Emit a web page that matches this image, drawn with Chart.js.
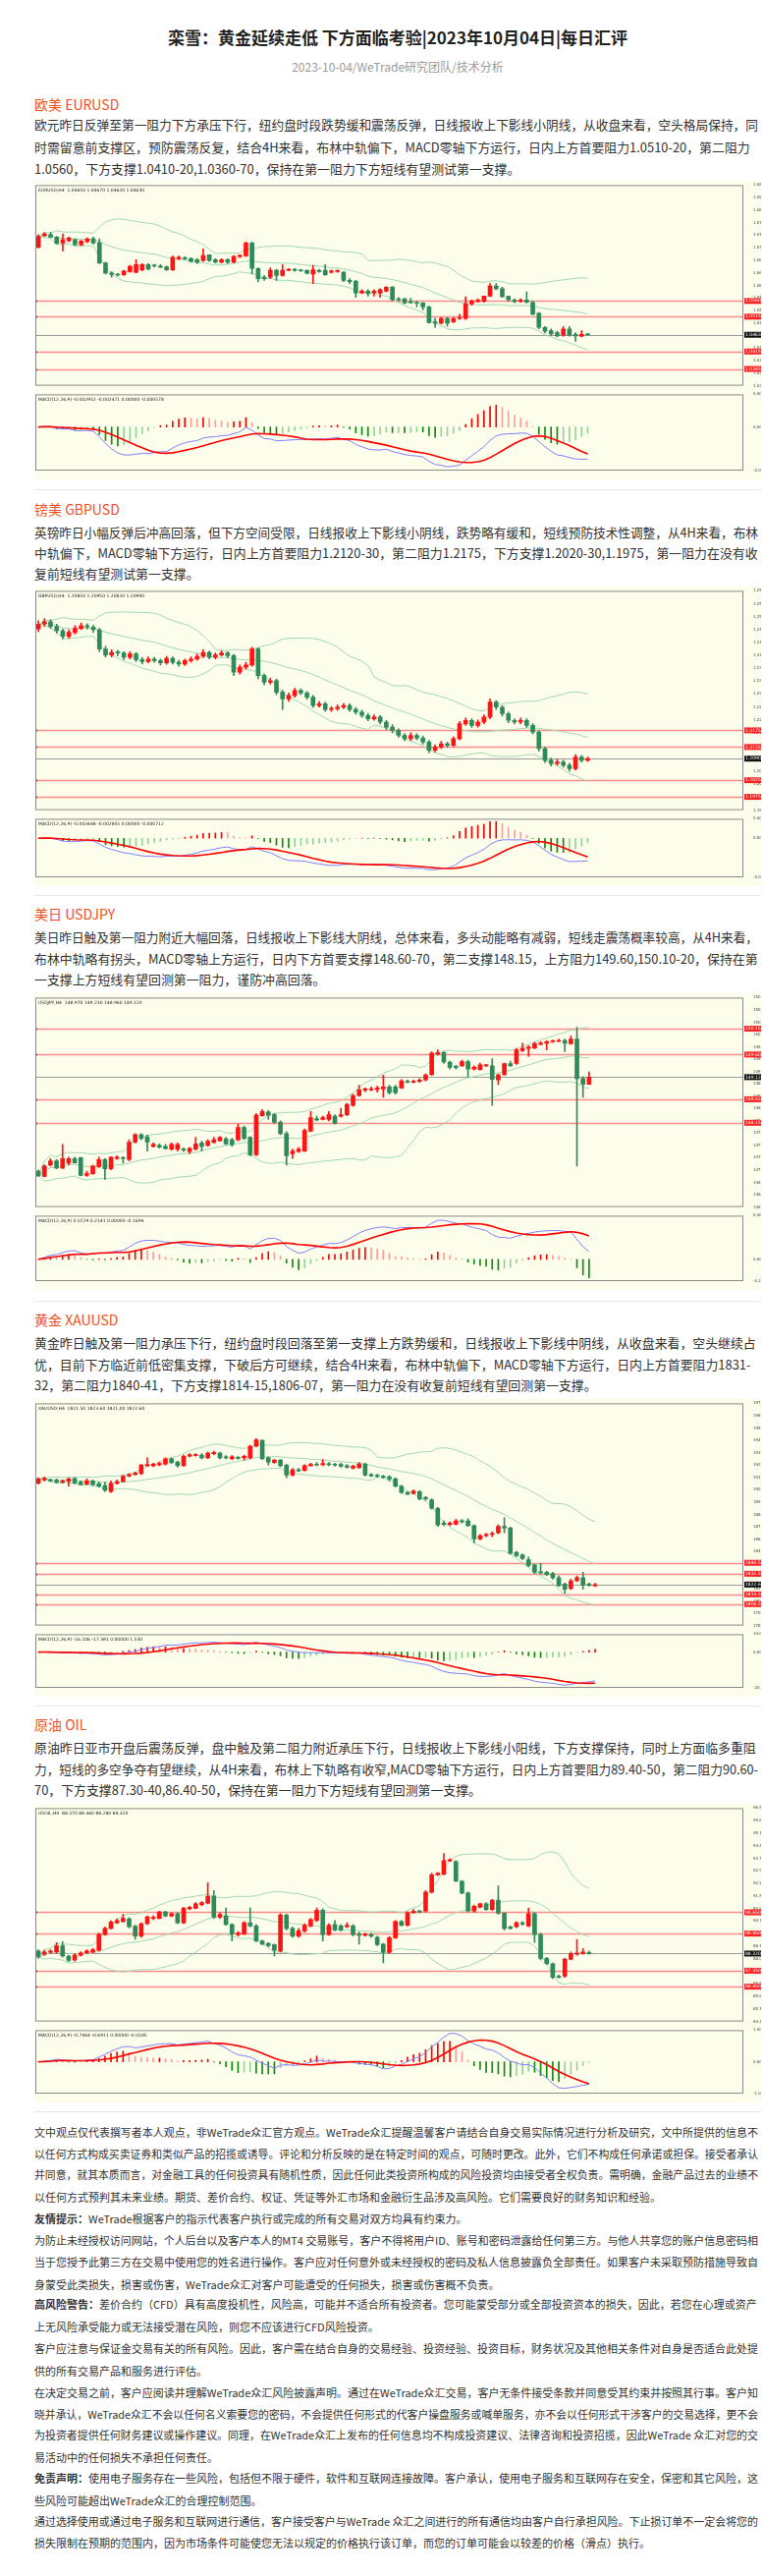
<!DOCTYPE html>
<html>
<head>
<meta charset="utf-8">
<script src="https://cdn.jsdelivr.net/npm/chart.js@4.4.0/dist/chart.umd.min.js"></script>
<style>
html,body{margin:0;padding:0;background:#fff}
body{position:relative;width:777px;height:2622px;overflow:hidden;font-family:"Noto Sans CJK SC","Noto Sans",sans-serif;color:#333}
.ab{position:absolute;white-space:nowrap}
.title{left:35px;width:740px;text-align:center;font-size:17px;font-weight:bold;color:#222;line-height:24px}
.sub{left:35px;width:740px;text-align:center;font-size:12px;color:#9a9a9a;line-height:18px}
.hd{left:35px;font-size:14px;color:#f0521c;line-height:20px}
.p{left:35px;font-size:12.9px;line-height:20px;color:#333;transform-origin:0 0}
.d{left:35px;font-size:11px;line-height:18px;color:#333;transform-origin:0 0}
.sep{position:absolute;left:35px;width:740px;height:1px;background:#e8e8e8}
.box{position:absolute;left:35px;width:740px;background:#fdfdec}
.box canvas{position:absolute;left:0}
</style>
</head>
<body>
<div class="ab title" style="top:26px">栾雪：黄金延续走低 下方面临考验|2023年10月04日|每日汇评</div>
<div class="ab sub" style="top:59px">2023-10-04/WeTrade研究团队/技术分析</div>

<div class="ab hd" style="top:96px">欧美 EURUSD</div>
<div class="ab p" style="top:117px">欧元昨日反弹至第一阻力下方承压下行，纽约盘时段跌势缓和震荡反弹，日线报收上下影线小阴线，从收盘来看，空头格局保持，同</div>
<div class="ab p" style="top:140px">时需留意前支撑区，预防震荡反复，结合4H来看，布林中轨偏下，MACD零轴下方运行，日内上方首要阻力1.0510-20，第二阻力</div>
<div class="ab p" style="top:162px">1.0560，下方支撑1.0410-20,1.0360-70，保持在第一阻力下方短线有望测试第一支撑。</div>
<div class="box" id="eur" style="top:184px;height:304px"></div>
<div class="sep" style="top:498px"></div>

<div class="ab hd" style="top:508px">镑美 GBPUSD</div>
<div class="ab p" style="top:532px">英镑昨日小幅反弹后冲高回落，但下方空间受限，日线报收上下影线小阴线，跌势略有缓和，短线预防技术性调整，从4H来看，布林</div>
<div class="ab p" style="top:553px">中轨偏下，MACD零轴下方运行，日内上方首要阻力1.2120-30，第二阻力1.2175，下方支撑1.2020-30,1.1975，第一阻力在没有收</div>
<div class="ab p" style="top:574px">复前短线有望测试第一支撑。</div>
<div class="box" id="gbp" style="top:597px;height:305px"></div>
<div class="sep" style="top:911px"></div>

<div class="ab hd" style="top:920px">美日 USDJPY</div>
<div class="ab p" style="top:944px">美日昨日触及第一阻力附近大幅回落，日线报收上下影线大阴线，总体来看，多头动能略有减弱，短线走震荡概率较高，从4H来看，</div>
<div class="ab p" style="top:966px">布林中轨略有拐头，MACD零轴上方运行，日内下方首要支撑148.60-70，第二支撑148.15，上方阻力149.60,150.10-20，保持在第</div>
<div class="ab p" style="top:987px">一支撑上方短线有望回测第一阻力，谨防冲高回落。</div>
<div class="box" id="jpy" style="top:1011px;height:302px"></div>
<div class="sep" style="top:1324px"></div>

<div class="ab hd" style="top:1333px">黄金 XAUUSD</div>
<div class="ab p" style="top:1357px">黄金昨日触及第一阻力承压下行，纽约盘时段回落至第一支撑上方跌势缓和，日线报收上下影线中阴线，从收盘来看，空头继续占</div>
<div class="ab p" style="top:1379px">优，目前下方临近前低密集支撑，下破后方可继续，结合4H来看，布林中轨偏下，MACD零轴下方运行，日内上方首要阻力1831-</div>
<div class="ab p" style="top:1400px">32，第二阻力1840-41，下方支撑1814-15,1806-07，第一阻力在没有收复前短线有望回测第一支撑。</div>
<div class="box" id="xau" style="top:1424px;height:303px"></div>
<div class="sep" style="top:1736px"></div>

<div class="ab hd" style="top:1745px">原油 OIL</div>
<div class="ab p" style="top:1769px">原油昨日亚市开盘后震荡反弹，盘中触及第二阻力附近承压下行，日线报收上下影线小阳线，下方支撑保持，同时上方面临多重阻</div>
<div class="ab p" style="top:1791px">力，短线的多空争夺有望继续，从4H来看，布林上下轨略有收窄,MACD零轴下方运行，日内上方首要阻力89.40-50，第二阻力90.60-</div>
<div class="ab p" style="top:1812px">70，下方支撑87.30-40,86.40-50，保持在第一阻力下方短线有望回测第一支撑。</div>
<div class="box" id="oil" style="top:1836px;height:304px"></div>
<div class="sep" style="top:2149px"></div>

<div class="ab d" style="top:2161px">文中观点仅代表撰写者本人观点，非WeTrade众汇官方观点。WeTrade众汇提醒温馨客户请结合自身交易实际情况进行分析及研究，文中所提供的信息不</div>
<div class="ab d" style="top:2183px">以任何方式构成买卖证券和类似产品的招揽或诱导。评论和分析反映的是在特定时间的观点，可随时更改。此外，它们不构成任何承诺或担保。接受者承认</div>
<div class="ab d" style="top:2204px">并同意，就其本质而言，对金融工具的任何投资具有随机性质，因此任何此类投资所构成的风险投资均由接受者全权负责。需明确，金融产品过去的业绩不</div>
<div class="ab d" style="top:2227px">以任何方式预判其未来业绩。期货、差价合约、权证、凭证等外汇市场和金融衍生品涉及高风险。它们需要良好的财务知识和经验。</div>
<div class="ab d" style="top:2249px"><b>友情提示：</b>WeTrade根据客户的指示代表客户执行或完成的所有交易对双方均具有约束力。</div>
<div class="ab d" style="top:2271px">为防止未经授权访问网站，个人后台以及客户本人的MT4 交易账号，客户不得将用户ID、账号和密码泄露给任何第三方。与他人共享您的账户信息密码相</div>
<div class="ab d" style="top:2293px">当于您授予此第三方在交易中使用您的姓名进行操作。客户应对任何意外或未经授权的密码及私人信息披露负全部责任。如果客户未采取预防措施导致自</div>
<div class="ab d" style="top:2316px">身蒙受此类损失，损害或伤害，WeTrade众汇对客户可能遭受的任何损失，损害或伤害概不负责。</div>
<div class="ab d" style="top:2336px"><b>高风险警告：</b>差价合约（CFD）具有高度投机性，风险高，可能并不适合所有投资者。您可能蒙受部分或全部投资资本的损失，因此，若您在心理或资产</div>
<div class="ab d" style="top:2359px">上无风险承受能力或无法接受潜在风险，则您不应该进行CFD风险投资。</div>
<div class="ab d" style="top:2381px">客户应注意与保证金交易有关的所有风险。因此，客户需在结合自身的交易经验、投资经验、投资目标，财务状况及其他相关条件对自身是否适合此处提</div>
<div class="ab d" style="top:2404px">供的所有交易产品和服务进行评估。</div>
<div class="ab d" style="top:2426px">在决定交易之前，客户应阅读并理解WeTrade众汇风险披露声明。通过在WeTrade众汇交易，客户无条件接受条款并同意受其约束并按照其行事。客户知</div>
<div class="ab d" style="top:2448px">晓并承认，WeTrade众汇不会以任何名义索要您的密码，不会提供任何形式的代客户操盘服务或喊单服务，亦不会以任何形式干涉客户的交易选择，更不会</div>
<div class="ab d" style="top:2469px">为投资者提供任何财务建议或操作建议。同理，在WeTrade众汇上发布的任何信息均不构成投资建议、法律咨询和投资招揽，因此WeTrade 众汇对您的交</div>
<div class="ab d" style="top:2492px">易活动中的任何损失不承担任何责任。</div>
<div class="ab d" style="top:2513px"><b>免责声明：</b>使用电子服务存在一些风险，包括但不限于硬件，软件和互联网连接故障。客户承认，使用电子服务和互联网存在安全，保密和其它风险，这</div>
<div class="ab d" style="top:2536px">些风险可能超出WeTrade众汇的合理控制范围。</div>
<div class="ab d" style="top:2557px">通过选择使用或通过电子服务和互联网进行通信，客户接受客户与WeTrade 众汇之间进行的所有通信均由客户自行承担风险。下止损订单不一定会将您的</div>
<div class="ab d" style="top:2579px">损失限制在预期的范围内，因为市场条件可能使您无法以规定的价格执行该订单，而您的订单可能会以较差的价格（滑点）执行。</div>

<script>
// squeeze over-long text lines so they end at the column edge like the original
function fitLines() {
  document.querySelectorAll('.p,.d').forEach(el => {
    el.style.transform = '';
    const w = el.getBoundingClientRect().width;
    if (w > 737) el.style.transform = 'scaleX(' + (737 / w) + ')';
  });
}
fitLines();
if (document.fonts && document.fonts.ready) document.fonts.ready.then(fitLines);

// ---- EURUSD H4 ----
const eurOpen = [1.0714,1.0747,1.0750,1.0743,1.0726,1.0732,1.0736,1.0721,1.0730,1.0738,
  1.0727,1.0669,1.0640,1.0637,1.0635,1.0644,1.0642,1.0649,1.0664,1.0662,
  1.0660,1.0658,1.0649,1.0681,1.0684,1.0682,1.0678,1.0676,1.0692,1.0678,
  1.0671,1.0678,1.0671,1.0687,1.0689,1.0726,1.0653,1.0628,1.0628,1.0648,
  1.0633,1.0648,1.0649,1.0648,1.0647,1.0637,1.0647,1.0648,1.0642,1.0644,
  1.0642,1.0619,1.0616,1.0583,1.0588,1.0583,1.0582,1.0588,1.0600,1.0566,
  1.0566,1.0558,1.0556,1.0554,1.0543,1.0500,1.0496,1.0510,1.0500,1.0510,
  1.0510,1.0552,1.0558,1.0559,1.0574,1.0603,1.0595,1.0573,1.0563,1.0559,
  1.0563,1.0556,1.0525,1.0484,1.0475,1.0469,1.0462,1.0480,1.0464,1.0459,
  1.0465];
const eurHigh = [1.0750,1.0756,1.0756,1.0745,1.0752,1.0743,1.0738,1.0734,1.0741,1.0743,
  1.0738,1.0671,1.0644,1.0639,1.0648,1.0662,1.0678,1.0667,1.0667,1.0665,
  1.0664,1.0660,1.0689,1.0689,1.0687,1.0684,1.0682,1.0709,1.0692,1.0681,
  1.0681,1.0681,1.0690,1.0692,1.0729,1.0729,1.0655,1.0633,1.0655,1.0651,
  1.0664,1.0653,1.0653,1.0651,1.0649,1.0662,1.0651,1.0664,1.0649,1.0649,
  1.0644,1.0624,1.0619,1.0592,1.0592,1.0592,1.0595,1.0601,1.0601,1.0570,
  1.0568,1.0568,1.0559,1.0556,1.0545,1.0510,1.0513,1.0513,1.0513,1.0522,
  1.0572,1.0563,1.0566,1.0574,1.0610,1.0610,1.0599,1.0574,1.0566,1.0566,
  1.0586,1.0560,1.0527,1.0487,1.0480,1.0473,1.0487,1.0487,1.0469,1.0475,
  1.0467];
const eurLow = [1.0712,1.0745,1.0741,1.0723,1.0703,1.0730,1.0719,1.0719,1.0727,1.0723,
  1.0667,1.0637,1.0628,1.0631,1.0633,1.0642,1.0640,1.0646,1.0649,1.0657,
  1.0655,1.0647,1.0647,1.0678,1.0678,1.0671,1.0667,1.0673,1.0673,1.0669,
  1.0669,1.0667,1.0669,1.0684,1.0687,1.0637,1.0615,1.0619,1.0624,1.0619,
  1.0631,1.0646,1.0645,1.0644,1.0637,1.0610,1.0642,1.0633,1.0640,1.0642,
  1.0615,1.0610,1.0570,1.0581,1.0574,1.0574,1.0570,1.0586,1.0560,1.0558,
  1.0552,1.0553,1.0543,1.0534,1.0496,1.0484,1.0494,1.0487,1.0498,1.0507,
  1.0507,1.0548,1.0556,1.0556,1.0572,1.0592,1.0570,1.0560,1.0555,1.0556,
  1.0554,1.0520,1.0480,1.0469,1.0462,1.0457,1.0459,1.0459,1.0444,1.0457,
  1.0462];
const eurClose = [1.0745,1.0752,1.0743,1.0725,1.0736,1.0740,1.0721,1.0732,1.0738,1.0726,
  1.0669,1.0640,1.0636,1.0634,1.0646,1.0659,1.0664,1.0664,1.0651,1.0660,
  1.0657,1.0649,1.0685,1.0685,1.0681,1.0673,1.0671,1.0690,1.0676,1.0671,
  1.0678,1.0671,1.0687,1.0691,1.0726,1.0653,1.0624,1.0624,1.0648,1.0633,
  1.0648,1.0650,1.0648,1.0646,1.0639,1.0649,1.0644,1.0635,1.0646,1.0647,
  1.0619,1.0615,1.0583,1.0588,1.0581,1.0588,1.0592,1.0599,1.0563,1.0563,
  1.0554,1.0555,1.0553,1.0543,1.0498,1.0496,1.0510,1.0496,1.0510,1.0513,
  1.0552,1.0560,1.0562,1.0574,1.0603,1.0595,1.0572,1.0563,1.0558,1.0563,
  1.0556,1.0522,1.0484,1.0473,1.0465,1.0460,1.0480,1.0462,1.0460,1.0464,
  1.0463];
const eurLevels = [1.0560, 1.0515, 1.0415, 1.0365];

// ---- GBPUSD H4 ----
const gbpOpen = [1.2480,1.2495,1.2502,1.2488,1.2475,1.2458,1.2470,1.2482,1.2490,1.2486,
  1.2478,1.2420,1.2402,1.2410,1.2408,1.2395,1.2405,1.2388,1.2382,1.2390,
  1.2385,1.2378,1.2392,1.2380,1.2375,1.2385,1.2390,1.2398,1.2410,1.2395,
  1.2402,1.2408,1.2400,1.2350,1.2365,1.2372,1.2420,1.2340,1.2320,1.2325,
  1.2290,1.2270,1.2280,1.2295,1.2288,1.2275,1.2250,1.2255,1.2238,1.2240,
  1.2245,1.2250,1.2238,1.2230,1.2220,1.2210,1.2215,1.2200,1.2185,1.2175,
  1.2160,1.2150,1.2160,1.2152,1.2140,1.2115,1.2125,1.2135,1.2130,1.2150,
  1.2195,1.2205,1.2190,1.2200,1.2215,1.2260,1.2245,1.2225,1.2205,1.2200,
  1.2205,1.2190,1.2170,1.2120,1.2085,1.2075,1.2080,1.2070,1.2060,1.2095,
  1.2085];
const gbpHigh = [1.2505,1.2512,1.2508,1.2495,1.2480,1.2478,1.2490,1.2498,1.2496,1.2492,
  1.2482,1.2428,1.2418,1.2416,1.2412,1.2412,1.2410,1.2395,1.2396,1.2395,
  1.2390,1.2398,1.2396,1.2386,1.2390,1.2396,1.2405,1.2418,1.2414,1.2408,
  1.2415,1.2412,1.2404,1.2372,1.2380,1.2425,1.2424,1.2345,1.2332,1.2330,
  1.2296,1.2288,1.2302,1.2300,1.2292,1.2280,1.2262,1.2260,1.2246,1.2252,
  1.2256,1.2255,1.2244,1.2236,1.2226,1.2222,1.2220,1.2205,1.2192,1.2180,
  1.2166,1.2168,1.2165,1.2158,1.2145,1.2132,1.2142,1.2140,1.2156,1.2202,
  1.2212,1.2210,1.2206,1.2222,1.2270,1.2265,1.2250,1.2230,1.2210,1.2212,
  1.2210,1.2195,1.2174,1.2125,1.2092,1.2088,1.2085,1.2076,1.2102,1.2100,
  1.2095];
const gbpLow = [1.2472,1.2488,1.2482,1.2468,1.2450,1.2452,1.2465,1.2478,1.2480,1.2470,
  1.2412,1.2395,1.2396,1.2400,1.2388,1.2390,1.2382,1.2375,1.2378,1.2380,
  1.2372,1.2374,1.2375,1.2368,1.2370,1.2380,1.2386,1.2394,1.2390,1.2390,
  1.2398,1.2394,1.2340,1.2344,1.2360,1.2368,1.2330,1.2312,1.2314,1.2282,
  1.2238,1.2262,1.2275,1.2282,1.2268,1.2244,1.2245,1.2232,1.2232,1.2235,
  1.2240,1.2232,1.2224,1.2214,1.2204,1.2205,1.2194,1.2178,1.2168,1.2154,
  1.2144,1.2145,1.2146,1.2134,1.2108,1.2110,1.2120,1.2124,1.2126,1.2146,
  1.2190,1.2184,1.2185,1.2195,1.2210,1.2238,1.2218,1.2198,1.2194,1.2195,
  1.2184,1.2164,1.2112,1.2078,1.2068,1.2070,1.2064,1.2052,1.2055,1.2080,
  1.2082];
const gbpClose = [1.2495,1.2502,1.2488,1.2475,1.2458,1.2470,1.2482,1.2490,1.2486,1.2478,
  1.2420,1.2402,1.2410,1.2408,1.2395,1.2405,1.2388,1.2382,1.2390,1.2385,
  1.2378,1.2392,1.2380,1.2375,1.2385,1.2390,1.2398,1.2410,1.2395,1.2402,
  1.2408,1.2400,1.2350,1.2365,1.2372,1.2420,1.2340,1.2320,1.2325,1.2290,
  1.2270,1.2280,1.2295,1.2288,1.2275,1.2250,1.2255,1.2238,1.2240,1.2245,
  1.2250,1.2238,1.2230,1.2220,1.2210,1.2215,1.2200,1.2185,1.2175,1.2160,
  1.2150,1.2160,1.2152,1.2140,1.2115,1.2125,1.2135,1.2130,1.2150,1.2195,
  1.2205,1.2190,1.2200,1.2215,1.2260,1.2245,1.2225,1.2205,1.2200,1.2205,
  1.2190,1.2170,1.2120,1.2085,1.2075,1.2080,1.2070,1.2060,1.2095,1.2085,
  1.2090];
const gbpLevels = [1.2175, 1.2125, 1.2025, 1.1975];

// ---- USDJPY H4 ----
const jpyOpen = [147.12,147.01,147.25,147.34,147.19,147.29,147.39,147.41,147.03,147.07,
  147.22,147.37,147.17,147.39,147.41,147.37,147.74,147.90,147.85,147.65,
  147.67,147.65,147.59,147.59,147.59,147.54,147.59,147.72,147.67,147.73,
  147.77,147.81,147.79,147.79,148.05,147.84,147.47,148.30,148.38,148.32,
  148.16,147.92,147.49,147.54,147.55,147.97,148.24,148.22,148.22,148.29,
  148.29,148.32,148.52,148.73,148.84,148.85,148.86,148.87,148.91,148.91,
  148.89,149.03,149.01,149.03,149.06,149.17,149.61,149.64,149.44,149.35,
  149.36,149.45,149.29,149.28,149.36,149.36,149.06,149.17,149.41,149.41,
  149.68,149.73,149.74,149.82,149.84,149.87,149.88,149.90,149.83,149.93,
  149.09,148.97];
const jpyHigh = [147.15,147.26,147.39,147.37,147.69,147.42,147.42,147.42,147.12,147.25,
  147.42,147.39,147.43,147.45,147.43,147.79,147.92,147.92,147.89,147.72,
  147.70,147.69,147.72,147.72,147.62,147.63,147.84,147.76,147.79,147.84,
  147.86,147.84,147.82,148.12,148.08,147.86,148.35,148.43,148.41,148.35,
  148.19,147.96,147.59,147.63,148.02,148.39,148.29,148.29,148.39,148.32,
  148.46,148.56,148.76,148.95,148.89,148.91,148.93,149.16,148.95,148.95,
  149.07,149.06,149.06,149.09,149.19,149.66,149.70,149.66,149.46,149.37,
  149.48,149.48,149.36,149.42,149.39,149.51,149.19,149.42,149.46,149.73,
  149.84,149.79,149.86,149.87,149.90,149.91,149.93,149.93,150.00,150.18,
  149.13,149.23];
const jpyLow = [147.01,147.00,147.23,147.17,147.17,147.25,147.29,147.02,147.01,147.05,
  147.20,146.95,147.15,147.37,147.29,147.34,147.72,147.79,147.55,147.63,
  147.61,147.59,147.57,147.55,147.54,147.49,147.57,147.55,147.65,147.72,
  147.76,147.69,147.65,147.77,147.79,147.45,147.45,148.29,148.22,148.14,
  147.90,147.25,147.39,147.52,147.54,147.96,148.19,148.21,148.19,148.12,
  148.27,148.30,148.50,148.71,148.81,148.83,148.80,148.69,148.76,148.76,
  148.88,149.00,149.00,149.01,149.04,149.16,149.59,149.41,149.29,149.29,
  149.35,149.13,149.27,149.27,149.35,148.52,148.96,149.16,149.35,149.39,
  149.66,149.56,149.72,149.80,149.70,149.86,149.87,149.66,149.82,147.23,
  148.69,148.96];
const jpyClose = [147.02,147.23,147.34,147.19,147.39,147.39,147.30,147.03,147.07,147.23,
  147.37,147.17,147.42,147.42,147.39,147.74,147.90,147.82,147.74,147.69,
  147.63,147.60,147.69,147.69,147.57,147.61,147.70,147.65,147.76,147.79,
  147.84,147.70,147.69,148.05,147.82,147.47,148.31,148.39,148.31,148.16,
  147.92,147.45,147.55,147.59,147.99,148.26,148.21,148.26,148.32,148.14,
  148.32,148.54,148.73,148.85,148.87,148.87,148.89,148.91,148.79,148.79,
  149.04,149.01,149.03,149.06,149.17,149.63,149.64,149.44,149.33,149.32,
  149.45,149.29,149.33,149.38,149.37,149.07,149.17,149.41,149.36,149.70,
  149.73,149.76,149.83,149.84,149.87,149.88,149.90,149.84,149.93,149.09,
  148.97,149.12];
const jpyLevels = [150.15, 149.60, 148.65, 148.15];

// ---- XAUUSD H4 ----
const xauOpen = [1906.2,1908.8,1908.8,1908.5,1907.0,1907.5,1910.1,1907.0,1905.4,1908.0,
  1905.7,1904.1,1899.2,1905.9,1907.5,1911.9,1913.2,1914.0,1920.5,1920.5,
  1921.3,1921.8,1926.2,1923.6,1920.5,1928.3,1928.8,1929.3,1927.0,1930.4,
  1930.9,1927.8,1926.2,1927.5,1927.0,1927.0,1936.6,1941.3,1927.0,1923.1,
  1925.2,1921.0,1912.7,1917.4,1916.6,1920.5,1921.8,1921.3,1922.0,1921.8,
  1921.5,1920.5,1918.4,1918.9,1921.8,1913.2,1912.7,1911.9,1911.4,1909.6,
  1903.6,1898.4,1897.6,1899.2,1894.5,1892.4,1885.4,1873.2,1872.2,1872.4,
  1875.3,1875.0,1871.1,1860.2,1862.8,1863.9,1865.2,1870.6,1869.1,1849.1,
  1847.0,1843.1,1838.7,1833.2,1832.7,1831.7,1828.3,1823.1,1819.2,1825.7,
  1828.3,1823.1,1821.5];
const xauHigh = [1910.6,1911.2,1909.6,1909.6,1908.8,1910.6,1910.6,1908.0,1909.6,1908.8,
  1907.0,1907.0,1908.0,1908.8,1912.7,1914.0,1915.3,1921.8,1927.0,1922.6,
  1923.6,1927.0,1927.0,1924.4,1929.3,1930.4,1930.4,1930.4,1931.9,1932.4,
  1931.7,1928.8,1928.8,1928.3,1929.3,1937.4,1942.8,1941.8,1927.8,1925.7,
  1925.7,1921.8,1918.4,1918.4,1921.3,1922.6,1923.1,1925.7,1923.1,1922.6,
  1922.6,1921.5,1921.0,1923.1,1922.6,1914.0,1913.5,1912.7,1912.2,1910.6,
  1904.4,1899.2,1900.5,1900.2,1895.0,1893.2,1886.2,1875.0,1874.3,1876.3,
  1876.3,1876.8,1871.7,1863.9,1864.9,1865.9,1871.7,1877.6,1869.9,1849.9,
  1847.8,1845.2,1839.5,1840.0,1833.5,1832.7,1829.6,1823.9,1827.0,1829.6,
  1832.7,1823.9,1823.6];
const xauLow = [1905.4,1908.0,1907.5,1906.2,1906.2,1903.6,1905.7,1904.4,1904.9,1904.1,
  1902.8,1899.2,1898.4,1905.4,1907.0,1911.4,1912.7,1913.2,1920.0,1919.7,
  1920.5,1921.0,1922.3,1919.2,1920.0,1927.8,1928.3,1926.2,1926.5,1929.6,
  1926.2,1926.2,1925.7,1925.7,1925.2,1926.2,1936.1,1925.7,1921.0,1922.6,
  1919.7,1910.6,1911.9,1915.8,1916.1,1920.0,1920.5,1920.5,1920.5,1920.0,
  1919.2,1918.4,1917.9,1918.4,1911.9,1911.4,1910.9,1910.1,1908.0,1902.8,
  1897.6,1896.6,1897.1,1892.4,1891.9,1884.6,1870.6,1871.1,1871.1,1871.7,
  1873.2,1870.6,1856.9,1859.4,1862.0,1862.0,1864.4,1865.2,1847.8,1845.7,
  1843.1,1837.4,1831.7,1831.4,1830.1,1827.0,1821.0,1815.3,1818.4,1824.9,
  1818.7,1821.2,1821.0];
const xauClose = [1909.6,1910.1,1908.0,1907.0,1908.0,1909.6,1906.2,1904.9,1908.0,1904.9,
  1903.6,1900.2,1905.9,1907.5,1911.9,1913.2,1914.5,1921.0,1921.5,1921.8,
  1922.3,1926.2,1923.1,1920.5,1928.3,1929.6,1929.6,1927.0,1930.9,1931.4,
  1927.0,1927.0,1927.8,1926.5,1928.3,1936.6,1941.8,1926.2,1923.6,1925.2,
  1920.5,1912.7,1917.1,1916.3,1920.5,1921.5,1921.0,1922.3,1921.3,1921.0,
  1920.0,1919.2,1920.2,1922.0,1912.7,1912.2,1911.7,1910.9,1909.6,1903.6,
  1898.4,1897.1,1899.7,1893.2,1893.2,1885.4,1871.7,1872.2,1873.2,1875.0,
  1874.3,1871.1,1860.2,1862.8,1863.9,1864.4,1870.6,1869.1,1848.3,1846.5,
  1843.9,1838.4,1832.7,1832.2,1830.9,1828.3,1821.8,1818.7,1825.7,1828.3,
  1822.3,1822.3,1822.6];
const xauLevels = [1840.5, 1831.5, 1814.5, 1806.5];

// ---- USOIL H4 ----
const oilOpen = [88.46,88.28,88.39,88.41,88.76,88.18,87.96,88.23,88.35,88.41,
  88.50,89.39,89.74,90.06,90.13,90.28,89.87,89.30,90.01,90.31,
  90.31,90.67,90.45,90.58,90.06,90.85,90.88,91.08,91.17,91.58,
  90.37,90.45,89.96,89.39,89.42,90.06,89.88,89.03,88.89,88.82,
  88.46,90.51,89.74,89.30,89.60,89.88,90.19,90.77,89.39,89.96,
  89.88,89.83,89.88,89.42,89.35,89.39,89.24,88.85,88.39,89.21,
  90.13,89.92,90.63,90.72,90.72,91.79,92.77,92.80,93.55,93.52,
  92.41,91.74,90.72,90.95,91.13,90.81,91.34,90.60,89.83,89.83,
  90.06,89.87,90.58,89.39,88.05,87.75,87.04,87.04,88.00,88.28,
  88.32,88.37];
const oilHigh = [88.53,88.50,88.53,88.94,88.99,88.23,88.32,88.43,88.53,88.60,
  89.48,89.83,90.19,90.28,90.54,90.35,89.92,90.06,90.45,90.45,
  90.72,90.72,90.63,90.63,90.93,90.99,91.20,91.25,92.32,91.88,
  90.63,90.90,90.01,89.56,90.13,90.90,89.96,89.07,88.94,88.85,
  90.58,90.54,89.83,89.74,90.01,90.31,90.90,90.85,90.01,90.19,
  89.96,90.06,89.96,89.53,89.48,89.46,89.30,88.89,89.28,90.19,
  90.19,90.69,90.81,90.77,91.88,92.86,92.91,93.98,93.69,93.57,
  92.45,91.79,91.06,91.17,91.20,91.38,92.15,90.63,89.88,90.13,
  90.13,90.90,90.63,89.48,88.11,87.79,87.11,88.05,88.41,89.12,
  88.60,88.46];
const oilLow = [88.05,88.21,88.32,88.35,88.11,87.87,87.89,88.18,88.32,88.35,
  88.46,89.35,89.71,90.01,90.10,89.78,89.12,89.24,89.96,90.24,
  90.28,90.40,90.40,90.01,90.01,90.81,90.85,91.02,91.13,90.31,
  90.31,89.92,89.03,89.30,89.39,89.83,88.99,88.82,88.71,88.18,
  88.41,89.65,89.24,89.24,89.53,89.83,90.13,89.03,89.35,89.60,
  89.60,89.78,89.30,88.85,89.30,89.24,88.76,87.79,88.32,89.17,
  89.88,89.87,90.60,90.63,90.67,91.74,92.73,92.77,93.52,92.38,
  91.70,90.67,90.67,90.90,90.77,90.77,90.54,89.65,89.69,89.78,
  89.92,89.83,88.94,87.96,87.70,86.90,86.93,86.98,87.96,88.23,
  88.28,88.28];
const oilClose = [88.14,88.41,88.46,88.76,88.18,87.93,88.23,88.35,88.46,88.53,
  89.39,89.74,90.10,90.19,90.31,89.83,89.30,90.01,90.40,90.37,
  90.67,90.45,90.58,90.06,90.88,90.93,91.13,91.20,91.56,90.37,
  90.54,89.96,89.42,89.48,90.06,89.88,89.03,88.85,88.76,88.50,
  90.51,89.74,89.30,89.60,89.92,90.24,90.77,89.39,89.92,89.65,
  89.65,89.92,89.39,89.35,89.42,89.30,88.82,88.39,89.21,90.13,
  89.92,90.63,90.72,90.67,91.79,92.77,92.86,93.57,93.62,92.41,
  91.74,90.72,90.99,91.13,90.81,91.34,90.60,89.74,89.74,90.06,
  89.99,90.58,89.39,88.05,87.75,86.98,86.98,88.00,88.32,88.35,
  88.41,88.32];
const oilLevels = [90.65, 89.45, 87.35, 86.45];

// x-axis tick labels (one every 4 bars)
const fxTicks = ['12 Sep 2023','13 Sep 12:00','14 Sep 04:00','14 Sep 20:00','15 Sep 12:00','18 Sep 04:00',
  '18 Sep 20:00','19 Sep 12:00','20 Sep 04:00','20 Sep 20:00','21 Sep 12:00','22 Sep 04:00','22 Sep 20:00',
  '25 Sep 12:00','26 Sep 04:00','26 Sep 20:00','27 Sep 12:00','28 Sep 04:00','28 Sep 20:00','29 Sep 12:00',
  '2 Oct 04:00','2 Oct 20:00','3 Oct 12:00'];
const xauTicks = ['12 Sep 2023','13 Sep 09:00','14 Sep 01:00','14 Sep 17:00','15 Sep 09:00','18 Sep 01:00',
  '18 Sep 17:00','19 Sep 09:00','20 Sep 01:00','20 Sep 17:00','21 Sep 09:00','22 Sep 01:00','22 Sep 17:00',
  '25 Sep 09:00','26 Sep 01:00','26 Sep 17:00','27 Sep 09:00','28 Sep 01:00','28 Sep 17:00','29 Sep 09:00',
  '2 Oct 01:00','2 Oct 17:00','3 Oct 09:00','4 Oct 01:00'];
const oilTicks = ['12 Sep 2023','13 Sep 13:00','14 Sep 05:00','14 Sep 21:00','15 Sep 13:00','18 Sep 05:00',
  '18 Sep 21:00','19 Sep 13:00','20 Sep 05:00','20 Sep 21:00','21 Sep 13:00','22 Sep 05:00','22 Sep 21:00',
  '25 Sep 13:00','26 Sep 05:00','26 Sep 21:00','27 Sep 13:00','28 Sep 05:00','28 Sep 21:00','29 Sep 13:00',
  '2 Oct 05:00','2 Oct 21:00','3 Oct 13:00'];

Chart.defaults.font.family = '"DejaVu Sans", sans-serif';
Chart.defaults.animation = false;

const UP = '#ff1414', DOWN = '#2e8b57', BAND = '#9fd9b2';

// bollinger(20,2) from closes
function bands(c) {
  const up = [], mid = [], lo = [];
  for (let i = 0; i < c.length; i++) {
    const w = c.slice(Math.max(0, i - 19), i + 1);
    const m = w.reduce((a, b) => a + b, 0) / w.length;
    const sd = Math.sqrt(w.reduce((a, b) => a + (b - m) * (b - m), 0) / w.length);
    mid.push(m); up.push(m + 2 * sd); lo.push(m - 2 * sd);
  }
  return { up, mid, lo };
}
function ema(a, n) {
  const k = 2 / (n + 1), out = [];
  a.forEach((v, i) => out.push(i ? out[i - 1] + k * (v - out[i - 1]) : v));
  return out;
}
// macd(12,26,9)
function macd(c) {
  const e12 = ema(c, 12), e26 = ema(c, 26);
  const main = e12.map((v, i) => v - e26[i]);
  const sig = main.map((v, i) => {
    const w = main.slice(Math.max(0, i - 8), i + 1);
    return w.reduce((a, b) => a + b, 0) / w.length;
  });
  const hist = main.map((v, i) => (v - sig[i]) * 1.2);
  return { main, sig, hist };
}

const levelPlugin = {
  id: 'levels',
  beforeDatasetsDraw(chart, args, o) {
    if (!o.levels) return;
    const { ctx, chartArea: a } = chart, y = chart.scales.y;
    ctx.save();
    o.levels.forEach(v => {
      const py = Math.round(y.getPixelForValue(v)) + 0.5;
      ctx.strokeStyle = '#ff8a8a'; ctx.lineWidth = 1.4;
      ctx.beginPath(); ctx.moveTo(a.left, py); ctx.lineTo(a.right, py); ctx.stroke();
      ctx.fillStyle = '#ff2020'; ctx.fillRect(a.left, py - 1, 2, 2);
    });
    const py = Math.round(y.getPixelForValue(o.last)) + 0.5;
    ctx.strokeStyle = '#9a9a9a'; ctx.lineWidth = 1;
    ctx.beginPath(); ctx.moveTo(a.left, py); ctx.lineTo(a.right, py); ctx.stroke();
    ctx.restore();
  },
  afterDraw(chart, args, o) {
    const { ctx, chartArea: a } = chart;
    ctx.save();
    ctx.strokeStyle = '#8a8a8a'; ctx.lineWidth = 1;
    ctx.strokeRect(a.left + 0.5, a.top + 0.5, a.width - 1, a.height - 1);
    ctx.font = '4.5px "DejaVu Sans"'; ctx.fillStyle = '#222'; ctx.textBaseline = 'middle';
    ctx.fillText(o.caption, a.left + 3, a.top + 5);
    if (o.levels) {
      const y = chart.scales.y;
      const box = (v, col) => {
        const py = y.getPixelForValue(v);
        ctx.fillStyle = col; ctx.fillRect(a.right + 1, py - 3, 17, 6);
        ctx.fillStyle = '#fff'; ctx.fillText(v.toFixed(o.digits), a.right + 2, py);
      };
      o.levels.forEach(v => box(v, '#ff2020'));
      box(o.last, '#111');
    }
    ctx.restore();
  }
};

function drawPair(p) {
  const host = document.getElementById(p.id);
  const n = p.close.length;
  const labels = Array.from({ length: p.slots }, (_, i) => String(i));
  const col = p.close.map((c, i) => c >= p.open[i] ? UP : DOWN);
  const bb = bands(p.close), m = macd(p.close);
  const cv1 = document.createElement('canvas');
  cv1.width = 740; cv1.height = p.mainH; cv1.style.top = '0px';
  const cv2 = document.createElement('canvas');
  cv2.width = 740; cv2.height = p.macdH; cv2.style.top = p.mainH + 'px';
  host.appendChild(cv1); host.appendChild(cv2);
  const line = (data, c, w) => ({ type: 'line', data, borderColor: c, borderWidth: w, pointRadius: 0, order: 3 });
  const d = p.digits;
  const last = n - 1;

  new Chart(cv1, {
    type: 'bar',
    data: {
      labels,
      datasets: [
        line(bb.up, BAND, 1), line(bb.mid, BAND, 1), line(bb.lo, BAND, 1),
        { data: p.low.map((l, i) => [l, p.high[i]]), backgroundColor: col, barThickness: 1, grouped: false, order: 2 },
        { data: p.open.map((o, i) => [Math.min(o, p.close[i]), Math.max(o, p.close[i])]), backgroundColor: col,
          barThickness: 4, minBarLength: 1, grouped: false, order: 1 }
      ]
    },
    options: {
      responsive: false, devicePixelRatio: 1,
      layout: { padding: { left: 1, top: 2, right: 0, bottom: 0 } },
      plugins: {
        legend: { display: false }, tooltip: { enabled: false },
        levels: { levels: p.levels, last: p.close[last], digits: d,
          caption: p.name + ',H4  ' + [p.open[last], p.high[last], p.low[last], p.close[last]].map(v => v.toFixed(d)).join(' ') }
      },
      scales: {
        x: { type: 'category', display: false, offset: true },
        y: { position: 'right', min: p.yMin, max: p.yMax,
          afterFit(s) { s.width = 18; },
          grid: { display: false }, border: { display: false },
          ticks: { count: p.tickCount, font: { size: 4 }, color: '#444', padding: 2, callback: v => v.toFixed(d) } }
      }
    },
    plugins: [levelPlugin]
  });

  const hc = m.hist.map((h, i) => {
    const prev = i ? m.hist[i - 1] : 0;
    if (h >= 0) return h >= prev ? '#ff0000' : '#ff9c9c';
    return h <= prev ? '#108a10' : '#94d49a';
  });
  const md = d + 1;
  new Chart(cv2, {
    type: 'bar',
    data: {
      labels,
      datasets: [
        { data: m.hist, backgroundColor: hc, barThickness: 1, order: 3 },
        { type: 'line', data: m.main, borderColor: '#7f7fff', borderWidth: 1, pointRadius: 0, order: 2 },
        { type: 'line', data: m.sig, borderColor: '#ff0000', borderWidth: 1.6, pointRadius: 0, order: 1 }
      ]
    },
    options: {
      responsive: false, devicePixelRatio: 1,
      layout: { padding: { left: 1, top: 1, right: 0, bottom: 0 } },
      plugins: {
        legend: { display: false }, tooltip: { enabled: false },
        levels: { caption: 'MACD(12,26,9) ' + m.main[last].toFixed(md) + ' ' + m.sig[last].toFixed(md) + ' 0.00000 ' + m.hist[last].toFixed(md) }
      },
      scales: {
        x: { type: 'category', offset: true,
          afterFit(s) { s.height = 9; },
          grid: { display: false }, border: { display: false },
          ticks: { autoSkip: false, maxRotation: 0, align: 'start', padding: 1, font: { size: 4 }, color: '#333',
            callback: (v, i) => (i % 4 === 0 && p.ticks[i / 4]) ? p.ticks[i / 4] : '' } },
        y: { position: 'right', grace: '6%',
          afterFit(s) { s.width = 18; },
          afterBuildTicks(s) { s.ticks = [{ value: s.max }, { value: 0 }, { value: s.min }]; },
          grid: { display: false }, border: { display: false },
          ticks: { font: { size: 4 }, color: '#444', padding: 2, callback: v => v === 0 ? '0.00' : v.toFixed(md) } }
      }
    },
    plugins: [levelPlugin]
  });
}

drawPair({ id: 'eur', name: 'EURUSD', open: eurOpen, high: eurHigh, low: eurLow, close: eurClose, levels: eurLevels,
  ticks: fxTicks, slots: 116, digits: 5, yMin: 1.0317, yMax: 1.0892, tickCount: 17, mainH: 213, macdH: 91 });
drawPair({ id: 'gbp', name: 'GBPUSD', open: gbpOpen, high: gbpHigh, low: gbpLow, close: gbpClose, levels: gbpLevels,
  ticks: fxTicks, slots: 116, digits: 5, yMin: 1.1935, yMax: 1.2595, tickCount: 18, mainH: 232, macdH: 73 });
drawPair({ id: 'jpy', name: 'USDJPY', open: jpyOpen, high: jpyHigh, low: jpyLow, close: jpyClose, levels: jpyLevels,
  ticks: fxTicks, slots: 117, digits: 3, yMin: 146.36, yMax: 150.81, tickCount: 18, mainH: 222, macdH: 80 });
drawPair({ id: 'xau', name: 'XAUUSD', open: xauOpen, high: xauHigh, low: xauLow, close: xauClose, levels: xauLevels,
  ticks: xauTicks, slots: 117, digits: 2, yMin: 1788.8, yMax: 1971.9, tickCount: 19, mainH: 235, macdH: 68 });
drawPair({ id: 'oil', name: 'USOIL', open: oilOpen, high: oilHigh, low: oilLow, close: oilClose, levels: oilLevels,
  ticks: oilTicks, slots: 117, digits: 3, yMin: 84.48, yMax: 96.54, tickCount: 18, mainH: 226, macdH: 78 });
</script>
</body>
</html>
